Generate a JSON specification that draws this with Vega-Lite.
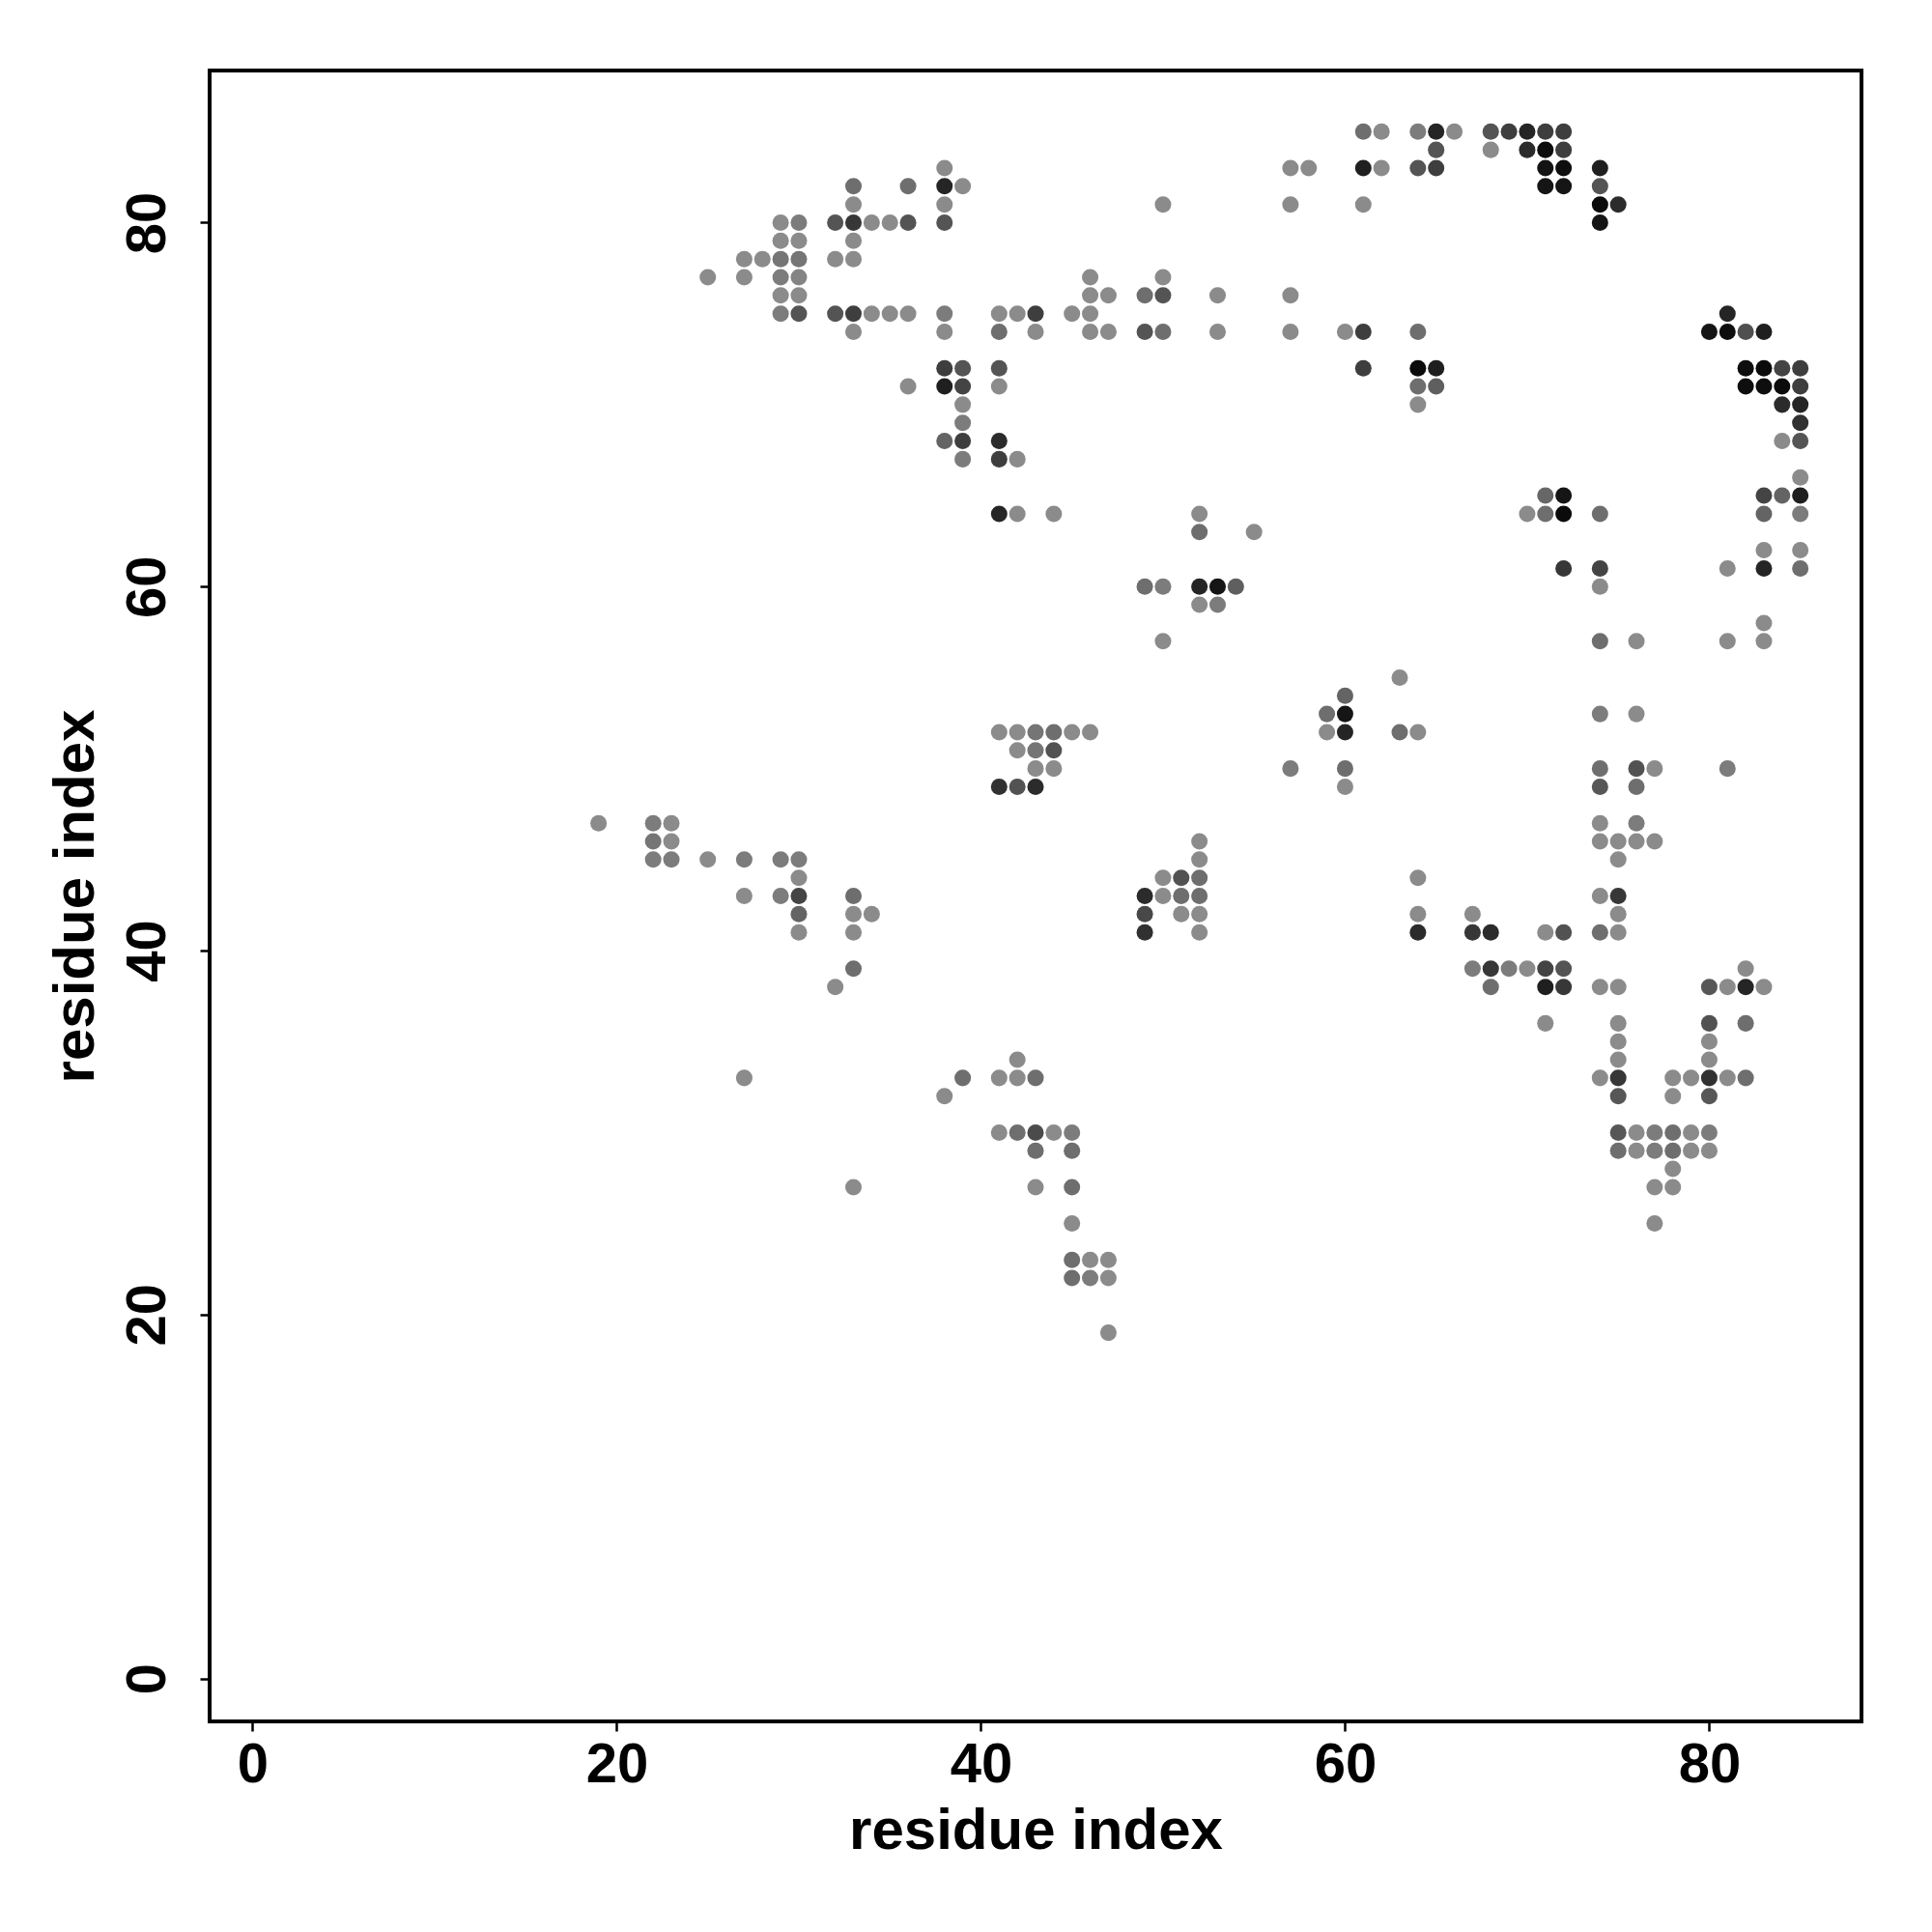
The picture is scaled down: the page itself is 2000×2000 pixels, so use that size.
{
"$schema": "https://vega.github.io/schema/vega-lite/v6.json",
"width": 1710, "height": 1709,
"autosize": "none",
"padding": {"left": 217, "top": 73, "right": 73, "bottom": 218},
"background": "white",
"config": {"view": {"stroke": "black", "strokeWidth": 4}},
"data": {"values": [
{"i":61,"j":85,"p":0.2},{"i":62,"j":85,"p":0},{"i":64,"j":85,"p":0.1},{"i":65,"j":85,"p":0.75},{"i":66,"j":85,"p":0},{"i":68,"j":85,"p":0.38},{"i":69,"j":85,"p":0.55},{"i":70,"j":85,"p":0.75},{"i":71,"j":85,"p":0.55},{"i":72,"j":85,"p":0.55},
{"i":65,"j":84,"p":0.38},{"i":68,"j":84,"p":0},{"i":70,"j":84,"p":0.7},{"i":71,"j":84,"p":0.93},{"i":72,"j":84,"p":0.55},
{"i":38,"j":83,"p":0},{"i":57,"j":83,"p":0},{"i":58,"j":83,"p":0},{"i":61,"j":83,"p":0.8},{"i":62,"j":83,"p":0},{"i":64,"j":83,"p":0.38},{"i":65,"j":83,"p":0.55},{"i":71,"j":83,"p":0.9},{"i":72,"j":83,"p":0.93},{"i":74,"j":83,"p":0.8},
{"i":33,"j":82,"p":0.2},{"i":36,"j":82,"p":0.2},{"i":38,"j":82,"p":0.75},{"i":39,"j":82,"p":0},{"i":71,"j":82,"p":0.88},{"i":72,"j":82,"p":0.88},{"i":74,"j":82,"p":0.38},
{"i":33,"j":81,"p":0},{"i":38,"j":81,"p":0},{"i":50,"j":81,"p":0},{"i":57,"j":81,"p":0},{"i":61,"j":81,"p":0},{"i":74,"j":81,"p":0.95},{"i":75,"j":81,"p":0.7},
{"i":29,"j":80,"p":0},{"i":30,"j":80,"p":0.1},{"i":32,"j":80,"p":0.38},{"i":33,"j":80,"p":0.6},{"i":34,"j":80,"p":0},{"i":35,"j":80,"p":0},{"i":36,"j":80,"p":0.38},{"i":38,"j":80,"p":0.38},{"i":74,"j":80,"p":0.88},
{"i":29,"j":79,"p":0},{"i":30,"j":79,"p":0},{"i":33,"j":79,"p":0},
{"i":27,"j":78,"p":0},{"i":28,"j":78,"p":0},{"i":29,"j":78,"p":0.15},{"i":30,"j":78,"p":0.15},{"i":32,"j":78,"p":0},{"i":33,"j":78,"p":0},
{"i":25,"j":77,"p":0},{"i":27,"j":77,"p":0},{"i":29,"j":77,"p":0.1},{"i":30,"j":77,"p":0.05},{"i":46,"j":77,"p":0},{"i":50,"j":77,"p":0},
{"i":29,"j":76,"p":0},{"i":30,"j":76,"p":0},{"i":46,"j":76,"p":0},{"i":47,"j":76,"p":0},{"i":49,"j":76,"p":0.2},{"i":50,"j":76,"p":0.38},{"i":53,"j":76,"p":0},{"i":57,"j":76,"p":0},
{"i":29,"j":75,"p":0.1},{"i":30,"j":75,"p":0.38},{"i":32,"j":75,"p":0.38},{"i":33,"j":75,"p":0.55},{"i":34,"j":75,"p":0},{"i":35,"j":75,"p":0},{"i":36,"j":75,"p":0},{"i":38,"j":75,"p":0.1},{"i":41,"j":75,"p":0},{"i":42,"j":75,"p":0},{"i":43,"j":75,"p":0.55},{"i":45,"j":75,"p":0},{"i":46,"j":75,"p":0},{"i":81,"j":75,"p":0.75},
{"i":33,"j":74,"p":0},{"i":38,"j":74,"p":0},{"i":41,"j":74,"p":0.2},{"i":43,"j":74,"p":0},{"i":46,"j":74,"p":0},{"i":47,"j":74,"p":0},{"i":49,"j":74,"p":0.38},{"i":50,"j":74,"p":0.2},{"i":53,"j":74,"p":0},{"i":57,"j":74,"p":0},{"i":60,"j":74,"p":0},{"i":61,"j":74,"p":0.55},{"i":64,"j":74,"p":0.2},{"i":80,"j":74,"p":0.88},{"i":81,"j":74,"p":0.93},{"i":82,"j":74,"p":0.42},{"i":83,"j":74,"p":0.8},
{"i":38,"j":72,"p":0.55},{"i":39,"j":72,"p":0.38},{"i":41,"j":72,"p":0.38},{"i":61,"j":72,"p":0.55},{"i":64,"j":72,"p":0.95},{"i":65,"j":72,"p":0.8},{"i":82,"j":72,"p":0.93},{"i":83,"j":72,"p":0.95},{"i":84,"j":72,"p":0.5},{"i":85,"j":72,"p":0.55},
{"i":36,"j":71,"p":0},{"i":38,"j":71,"p":0.8},{"i":39,"j":71,"p":0.5},{"i":41,"j":71,"p":0},{"i":64,"j":71,"p":0.2},{"i":65,"j":71,"p":0.3},{"i":82,"j":71,"p":0.93},{"i":83,"j":71,"p":0.93},{"i":84,"j":71,"p":0.95},{"i":85,"j":71,"p":0.55},
{"i":39,"j":70,"p":0},{"i":64,"j":70,"p":0},{"i":84,"j":70,"p":0.7},{"i":85,"j":70,"p":0.75},
{"i":39,"j":69,"p":0.1},{"i":85,"j":69,"p":0.65},
{"i":38,"j":68,"p":0.27},{"i":39,"j":68,"p":0.55},{"i":41,"j":68,"p":0.7},{"i":84,"j":68,"p":0},{"i":85,"j":68,"p":0.38},
{"i":39,"j":67,"p":0.1},{"i":41,"j":67,"p":0.55},{"i":42,"j":67,"p":0},
{"i":85,"j":66,"p":0},
{"i":71,"j":65,"p":0.25},{"i":72,"j":65,"p":0.88},{"i":83,"j":65,"p":0.5},{"i":84,"j":65,"p":0.27},{"i":85,"j":65,"p":0.8},
{"i":41,"j":64,"p":0.75},{"i":42,"j":64,"p":0},{"i":44,"j":64,"p":0},{"i":52,"j":64,"p":0},{"i":70,"j":64,"p":0},{"i":71,"j":64,"p":0.2},{"i":72,"j":64,"p":0.95},{"i":74,"j":64,"p":0.2},{"i":83,"j":64,"p":0.27},{"i":85,"j":64,"p":0.1},
{"i":52,"j":63,"p":0.2},{"i":55,"j":63,"p":0},
{"i":83,"j":62,"p":0},{"i":85,"j":62,"p":0},
{"i":72,"j":61,"p":0.6},{"i":74,"j":61,"p":0.5},{"i":81,"j":61,"p":0},{"i":83,"j":61,"p":0.75},{"i":85,"j":61,"p":0.2},
{"i":49,"j":60,"p":0.2},{"i":50,"j":60,"p":0.1},{"i":52,"j":60,"p":0.75},{"i":53,"j":60,"p":0.88},{"i":54,"j":60,"p":0.3},{"i":74,"j":60,"p":0},
{"i":52,"j":59,"p":0},{"i":53,"j":59,"p":0.1},
{"i":83,"j":58,"p":0},
{"i":50,"j":57,"p":0},{"i":74,"j":57,"p":0.2},{"i":76,"j":57,"p":0},{"i":81,"j":57,"p":0},{"i":83,"j":57,"p":0},
{"i":63,"j":55,"p":0},
{"i":60,"j":54,"p":0.27},
{"i":59,"j":53,"p":0.2},{"i":60,"j":53,"p":0.88},{"i":74,"j":53,"p":0.1},{"i":76,"j":53,"p":0},
{"i":41,"j":52,"p":0},{"i":42,"j":52,"p":0},{"i":43,"j":52,"p":0.15},{"i":44,"j":52,"p":0.2},{"i":45,"j":52,"p":0},{"i":46,"j":52,"p":0},{"i":59,"j":52,"p":0},{"i":60,"j":52,"p":0.75},{"i":63,"j":52,"p":0.2},{"i":64,"j":52,"p":0},
{"i":42,"j":51,"p":0},{"i":43,"j":51,"p":0.15},{"i":44,"j":51,"p":0.4},
{"i":43,"j":50,"p":0},{"i":44,"j":50,"p":0},{"i":57,"j":50,"p":0.1},{"i":60,"j":50,"p":0.2},{"i":74,"j":50,"p":0.2},{"i":76,"j":50,"p":0.4},{"i":77,"j":50,"p":0},{"i":81,"j":50,"p":0.1},
{"i":41,"j":49,"p":0.65},{"i":42,"j":49,"p":0.4},{"i":43,"j":49,"p":0.7},{"i":60,"j":49,"p":0},{"i":74,"j":49,"p":0.36},{"i":76,"j":49,"p":0.2},
{"i":19,"j":47,"p":0},{"i":22,"j":47,"p":0.1},{"i":23,"j":47,"p":0},{"i":74,"j":47,"p":0},{"i":76,"j":47,"p":0.1},
{"i":22,"j":46,"p":0.15},{"i":23,"j":46,"p":0},{"i":52,"j":46,"p":0},{"i":74,"j":46,"p":0},{"i":75,"j":46,"p":0},{"i":76,"j":46,"p":0},{"i":77,"j":46,"p":0},
{"i":22,"j":45,"p":0.1},{"i":23,"j":45,"p":0.1},{"i":25,"j":45,"p":0},{"i":27,"j":45,"p":0.1},{"i":29,"j":45,"p":0.1},{"i":30,"j":45,"p":0.1},{"i":52,"j":45,"p":0},{"i":75,"j":45,"p":0},
{"i":30,"j":44,"p":0},{"i":50,"j":44,"p":0},{"i":51,"j":44,"p":0.4},{"i":52,"j":44,"p":0.2},{"i":64,"j":44,"p":0},
{"i":27,"j":43,"p":0},{"i":29,"j":43,"p":0.1},{"i":30,"j":43,"p":0.5},{"i":33,"j":43,"p":0.2},{"i":49,"j":43,"p":0.7},{"i":50,"j":43,"p":0},{"i":51,"j":43,"p":0.2},{"i":52,"j":43,"p":0.2},{"i":74,"j":43,"p":0},{"i":75,"j":43,"p":0.6},
{"i":30,"j":42,"p":0.27},{"i":33,"j":42,"p":0},{"i":34,"j":42,"p":0},{"i":49,"j":42,"p":0.47},{"i":51,"j":42,"p":0},{"i":52,"j":42,"p":0},{"i":64,"j":42,"p":0},{"i":67,"j":42,"p":0},{"i":75,"j":42,"p":0},
{"i":30,"j":41,"p":0},{"i":33,"j":41,"p":0},{"i":49,"j":41,"p":0.65},{"i":52,"j":41,"p":0},{"i":64,"j":41,"p":0.7},{"i":67,"j":41,"p":0.6},{"i":68,"j":41,"p":0.7},{"i":71,"j":41,"p":0},{"i":72,"j":41,"p":0.4},{"i":74,"j":41,"p":0.2},{"i":75,"j":41,"p":0},
{"i":33,"j":39,"p":0.2},{"i":67,"j":39,"p":0.1},{"i":68,"j":39,"p":0.6},{"i":69,"j":39,"p":0.1},{"i":70,"j":39,"p":0},{"i":71,"j":39,"p":0.5},{"i":72,"j":39,"p":0.38},{"i":82,"j":39,"p":0},
{"i":32,"j":38,"p":0},{"i":68,"j":38,"p":0.2},{"i":71,"j":38,"p":0.8},{"i":72,"j":38,"p":0.6},{"i":74,"j":38,"p":0},{"i":75,"j":38,"p":0},{"i":80,"j":38,"p":0.36},{"i":81,"j":38,"p":0},{"i":82,"j":38,"p":0.75},{"i":83,"j":38,"p":0},
{"i":71,"j":36,"p":0},{"i":75,"j":36,"p":0},{"i":80,"j":36,"p":0.4},{"i":82,"j":36,"p":0.2},
{"i":75,"j":35,"p":0},{"i":80,"j":35,"p":0},
{"i":42,"j":34,"p":0},{"i":75,"j":34,"p":0},{"i":80,"j":34,"p":0},
{"i":27,"j":33,"p":0},{"i":39,"j":33,"p":0.2},{"i":41,"j":33,"p":0},{"i":42,"j":33,"p":0},{"i":43,"j":33,"p":0.2},{"i":74,"j":33,"p":0},{"i":75,"j":33,"p":0.6},{"i":78,"j":33,"p":0},{"i":79,"j":33,"p":0},{"i":80,"j":33,"p":0.65},{"i":81,"j":33,"p":0},{"i":82,"j":33,"p":0.2},
{"i":38,"j":32,"p":0},{"i":75,"j":32,"p":0.36},{"i":78,"j":32,"p":0},{"i":80,"j":32,"p":0.36},
{"i":41,"j":30,"p":0},{"i":42,"j":30,"p":0.2},{"i":43,"j":30,"p":0.45},{"i":44,"j":30,"p":0},{"i":45,"j":30,"p":0.1},{"i":75,"j":30,"p":0.36},{"i":76,"j":30,"p":0},{"i":77,"j":30,"p":0.1},{"i":78,"j":30,"p":0.2},{"i":79,"j":30,"p":0},{"i":80,"j":30,"p":0.1},
{"i":43,"j":29,"p":0.2},{"i":45,"j":29,"p":0.2},{"i":75,"j":29,"p":0.2},{"i":76,"j":29,"p":0},{"i":77,"j":29,"p":0.1},{"i":78,"j":29,"p":0.2},{"i":79,"j":29,"p":0},{"i":80,"j":29,"p":0},
{"i":78,"j":28,"p":0},
{"i":33,"j":27,"p":0},{"i":43,"j":27,"p":0},{"i":45,"j":27,"p":0.2},{"i":77,"j":27,"p":0},{"i":78,"j":27,"p":0},
{"i":45,"j":25,"p":0},{"i":77,"j":25,"p":0},
{"i":45,"j":23,"p":0.2},{"i":46,"j":23,"p":0},{"i":47,"j":23,"p":0},
{"i":45,"j":22,"p":0.2},{"i":46,"j":22,"p":0.1},{"i":47,"j":22,"p":0},
{"i":47,"j":19,"p":0}
]},
"mark": {"type": "circle", "size": 290, "opacity": 1},
"encoding": {
 "x": {"field": "i", "type": "quantitative",
   "scale": {"domain": [-2.36, 88.36], "nice": false, "zero": false},
   "axis": {"values": [0,20,40,60,80], "title": "residue index", "domain": false, "grid": false,
     "tickColor": "black", "tickWidth": 2.5, "tickSize": 10,
     "labelFont": "Liberation Sans", "labelFontWeight": "bold", "labelFontSize": 58, "labelColor": "black",
     "labelPadding": 6, "labelBaseline": "top", "labelFlush": false, "labelOverlap": false, "format": "d",
     "titleFont": "Liberation Sans", "titleFontWeight": "bold", "titleFontSize": 60, "titleColor": "black",
     "titleBaseline": "alphabetic", "titleY": 131, "titleX": 855}},
 "y": {"field": "j", "type": "quantitative",
   "scale": {"domain": [-2.36, 88.36], "nice": false, "zero": false},
   "axis": {"values": [0,20,40,60,80], "title": "residue index", "domain": false, "grid": false,
     "tickColor": "black", "tickWidth": 2.5, "tickSize": 10,
     "labelFont": "Liberation Sans", "labelFontWeight": "bold", "labelFontSize": 58, "labelColor": "black",
     "labelAngle": 270, "labelAlign": "center", "labelBaseline": "alphabetic", "labelPadding": 37,
     "labelFlush": false, "labelOverlap": false, "format": "d",
     "titleFont": "Liberation Sans", "titleFontWeight": "bold", "titleFontSize": 60, "titleColor": "black",
     "titleAngle": 270, "titleBaseline": "alphabetic", "titleAlign": "center", "titleX": -121, "titleY": 854.5}},
 "color": {"field": "p", "type": "quantitative", "scale": {"domain": [0, 1], "range": ["#8b8b8b", "#000000"]}, "legend": null}
}
}
